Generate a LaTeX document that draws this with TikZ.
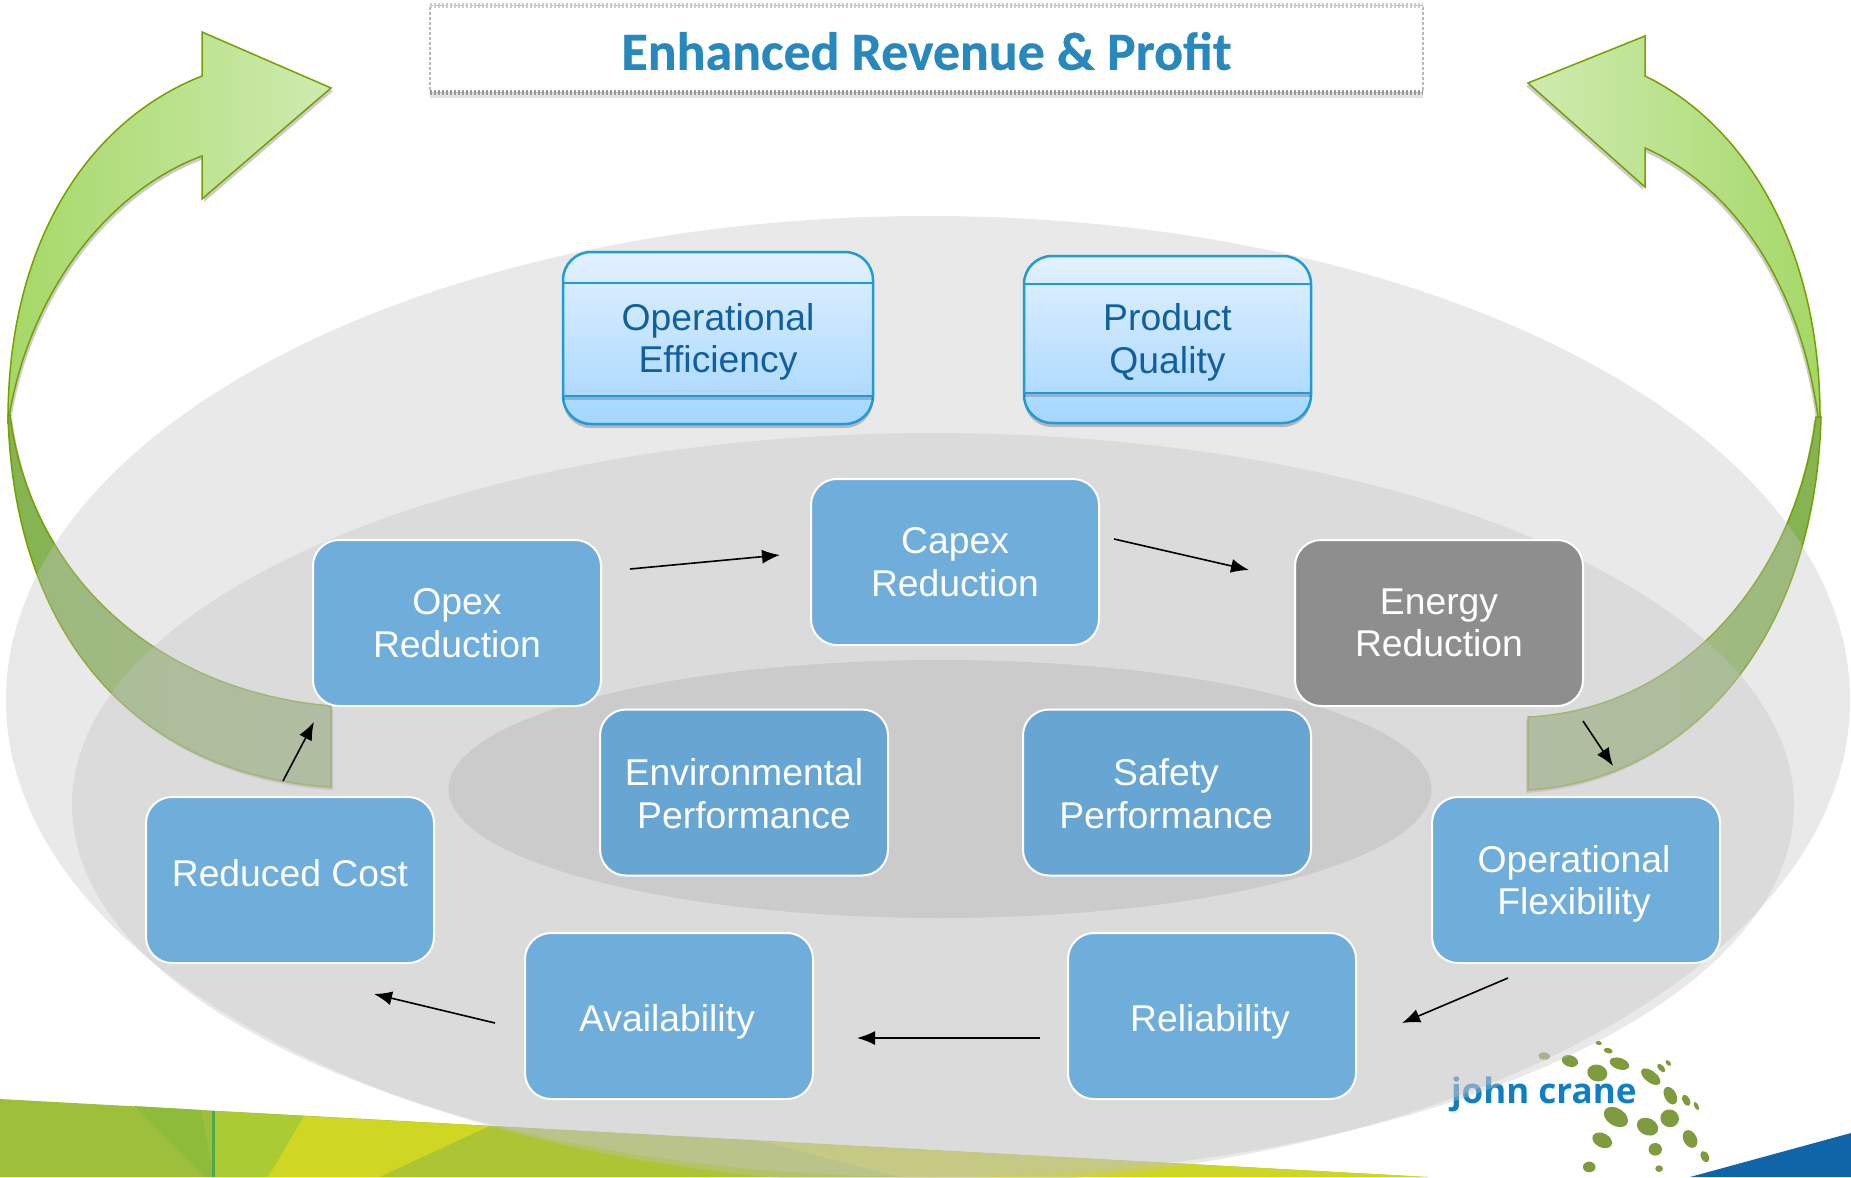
\documentclass[tikz,border=0pt]{standalone}
\usepackage{color}
\usepackage{fontspec}
\setmainfont{Liberation Sans}
\newfontfamily\titlefont[BoldFeatures={FakeBold=0.5}]{Carlito}
\newfontfamily\logofont{Open Sans}
\usepackage{tikz}
\usetikzlibrary{shapes, arrows, arrows.meta, shadows}

\definecolor{boxBlue}{RGB}{111,173,219}
\definecolor{coreBlue}{RGB}{103,165,211}
\definecolor{boxGrey}{RGB}{142,142,142}
\definecolor{goalLine}{RGB}{31,156,216}
\definecolor{goalText}{RGB}{16,96,160}
\definecolor{goalTop}{RGB}{227,241,255}
\definecolor{goalBottom}{RGB}{164,214,255}
\definecolor{titleBlue}{RGB}{38,136,188}
\definecolor{arrowLine}{RGB}{117,160,0}
\definecolor{logoGreen}{RGB}{126,156,62}
\definecolor{logoBlue}{RGB}{14,127,198}
\definecolor{ringGrey}{RGB}{195,195,195}
\definecolor{coreGrey}{RGB}{177,177,177}
\definecolor{arrowLight}{RGB}{207,235,176}
\definecolor{arrowMid}{RGB}{165,216,103}
\definecolor{arrowDeep}{RGB}{133,180,80}
\definecolor{arrowPale}{RGB}{153,183,115}

\newcommand{\textDown}[1]{\rule{0pt}{#1}}
\newcommand{\textUp}[1]{\rule[-#1]{0pt}{#1}}

\begin{document}
\begin{tikzpicture}[
    x=1pt, y=-1pt,
    boxWidth/.style={minimum width=288pt},
    boxHeight/.style={minimum height=166pt},
    stepBox/.style={boxWidth, boxHeight, fill=boxBlue, draw=white, line width=2pt, rounded corners=26pt, text=white},
    coreBox/.style={stepBox, fill=coreBlue},
    goalBox/.style={boxHeight, rounded corners=28pt, draw=goalLine, line width=2.5pt, top color=goalTop, bottom color=goalBottom, text=goalText,
        drop shadow={fill=black, shadow xshift=0pt, shadow yshift=-4pt, opacity=.22}},
    ring/.style={ellipse, inner sep=0pt, fill=ringGrey, fill opacity=.37},
    flowArrow/.style={->, >={Latex[length=18pt, width=14pt]}, line width=1.6pt},
    bigArrow/.style={draw=arrowLine, line width=1.5pt, line join=miter},
    every node/.style={
        text centered,
        align=center,
        font=\fontsize{37.3}{42.5}\selectfont,
        outer sep=0pt,
        }
        ]
    \useasboundingbox (0,0) rectangle (1851,1177);

    \fill[fill={rgb,255:red,157;green,191;blue,60}] (0,1099) -- (1428,1177) -- (0,1177) -- cycle;
    \fill[fill={rgb,255:red,143;green,187;blue,58}] (134,1106) -- (201,1110) -- (214,1177) -- (205,1177) -- cycle;
    \fill[fill={rgb,255:red,170;green,203;blue,51}] (214,1111) -- (304,1116) -- (268,1177) -- (214,1177) -- cycle;
    \fill[fill={rgb,255:red,207;green,215;blue,34}] (304,1116) -- (490,1126) -- (380,1177) -- (268,1177) -- cycle;
    \fill[fill={rgb,255:red,173;green,196;blue,52}] (490,1126) -- (760,1141) -- (900,1177) -- (380,1177) -- cycle;
    \fill[fill={rgb,255:red,205;green,214;blue,37}] (760,1141) -- (1428,1177) -- (900,1177) -- cycle;
    \fill[fill={rgb,255:red,79;green,168;blue,80}] (212,1111) -- (215,1111) -- (215,1177) -- (212,1177) -- cycle;
    \fill[fill={rgb,255:red,16;green,100;blue,168}] (1690,1177) -- (1851,1133) -- (1851,1177) -- cycle;

    \node[anchor=base west, font=\logofont\bfseries\fontsize{35}{42}\selectfont, text=logoBlue, inner sep=0pt] (logo) at (1451,1103) {john crane};
    \begin{scope}[shift={(1300,960)}, xscale=.3514, yscale=.3333]
        \foreach \x/\y/\a/\b/\r in {850/249/9/6/10, 877/272/13/8/15, 695/288/17/11/5, 768/303/24/17/20, 909/311/29/17/20,
            846/339/29/25/20, 1028/324/15/8/50, 1048/309/10/6/50, 998/350/33/17/40, 1054/407/28/17/65, 1099/421/18/10/65,
            1128/438/13/6/65, 899/471/38/26/35, 989/500/32/25/30, 1052/475/27/26/50, 1110/537/28/19/65, 860/541/30/21/30,
            1011/568/19/19/0, 1152/590/18/11/65, 823/621/18/16/0, 1022/626/11/10/0}
            \fill[logoGreen, rotate around={-\r:(\x,\y)}] (\x,\y) ellipse [x radius=\a, y radius=\b];
    \end{scope}

    \path[bigArrow, left color=arrowMid, right color=arrowLight,
        drop shadow={fill=black, shadow xshift=2pt, shadow yshift=-3pt, opacity=.2}]
        (331,88) -- (202,199) -- (202,156) .. controls (110,190) and (30,290) .. (9,417)
        -- (8,420) .. controls (8,240) and (90,120) .. (202,76) -- (202,32) -- cycle;
    \path[bigArrow, left color=arrowDeep, right color=arrowPale,
        drop shadow={fill=black, shadow xshift=2pt, shadow yshift=-3pt, opacity=.2}]
        (8,415) .. controls (14,640) and (140,775) .. (331,787) -- (331,706) .. controls (150,690) and (30,570) .. (10,415) -- cycle;
    \path[bigArrow, right color=arrowMid, left color=arrowLight,
        drop shadow={fill=black, shadow xshift=-2pt, shadow yshift=-3pt, opacity=.2}]
        (1528,83) -- (1645,187) -- (1645,148) .. controls (1735,188) and (1800,285) .. (1818,417)
        -- (1820,417) .. controls (1820,240) and (1740,122) .. (1645,76) -- (1645,36) -- cycle;
    \path[bigArrow, right color=arrowDeep, left color=arrowPale,
        drop shadow={fill=black, shadow xshift=-2pt, shadow yshift=-3pt, opacity=.2}]
        (1821,417) .. controls (1815,640) and (1690,780) .. (1528,790) -- (1528,717) .. controls (1680,710) and (1795,580) .. (1816,417) -- cycle;

    \node[ring, minimum width=1844pt, minimum height=968pt] (outerRing) at (928,700) {};
    \node[ring, minimum width=1722pt, minimum height=744pt] (middleRing) at (933,805) {};
    \node[ring, fill=coreGrey, minimum width=983pt, minimum height=258pt] (innerRing) at (940,789) {};

    \fill[gray, opacity=.22] (430,90) rectangle (1423,98);
    \node[minimum width=993pt, minimum height=87pt, fill=white, draw=gray!55, line width=1.2pt, dash pattern=on 3pt off 2pt, text=titleBlue,
        font=\titlefont\bfseries\fontsize{53.8}{60}\selectfont] (title) at (926.5,49) {\textDown{42pt}Enhanced Revenue \& Profit};
    \draw[gray!40, line width=5pt, dash pattern=on 2pt off 2pt] (title.north west) -- (title.north east);
    \draw[gray!80, line width=5pt, dash pattern=on 2pt off 2pt] (title.south west) -- (title.south east);

    \node[goalBox, minimum width=310pt, minimum height=172pt] (opEff) at (718,338) {\textDown{35pt}Operational\\Efficiency};
    \node[goalBox, minimum width=287pt, minimum height=167pt] (prodQual) at (1167.5,339.5) {\textDown{33pt}Product\\Quality};
    \draw[goalLine, line width=2pt] ([yshift=-31pt]opEff.north west) -- ([yshift=-31pt]opEff.north east);
    \draw[black, opacity=.18, line width=3pt] ([yshift=26pt]opEff.south west) -- ([yshift=26pt]opEff.south east);
    \draw[goalLine, line width=2.5pt] ([yshift=28pt]opEff.south west) -- ([yshift=28pt]opEff.south east);
    \draw[goalLine, line width=2pt] ([yshift=-28pt]prodQual.north west) -- ([yshift=-28pt]prodQual.north east);
    \draw[black, opacity=.18, line width=3pt] ([yshift=28pt]prodQual.south west) -- ([yshift=28pt]prodQual.south east);
    \draw[goalLine, line width=2.5pt] ([yshift=30pt]prodQual.south west) -- ([yshift=30pt]prodQual.south east);

    \node[stepBox] (opex) at (457,623) {Opex\\Reduction};
    \node[stepBox, xshift=498pt, yshift=61pt] (capex) at (opex.center) {Capex\\Reduction};
    \node[stepBox, fill=boxGrey, xshift=982pt] (energy) at (opex.center) {Energy\\Reduction};
    \node[coreBox] (envPerf) at (744,792.5) {\textDown{29pt}Environmental\\Performance};
    \node[coreBox, xshift=423pt] (safePerf) at (envPerf.center) {\textDown{29pt}Safety\hspace*{2pt}\\Performance\hspace*{2pt}};
    \node[stepBox] (redCost) at (290,880) {Reduced Cost\textUp{14pt}};
    \node[stepBox, xshift=1286pt] (opFlex) at (redCost.center) {\textDown{35pt}Operational\hspace*{4pt}\\Flexibility\hspace*{4pt}};
    \node[stepBox] (avail) at (669,1016) {\textDown{39pt}Availability\hspace*{4pt}};
    \node[stepBox, xshift=543pt] (reliab) at (avail.center) {\textDown{39pt}Reliability\hspace*{4pt}};

    \draw[flowArrow] ([xshift=-7pt, yshift=16pt]redCost.north) -- ([xshift=1pt, yshift=-16pt]opex.south west);
    \draw[flowArrow] ([xshift=29pt, yshift=54pt]opex.east) -- ([xshift=-31pt, yshift=7pt]capex.west);
    \draw[flowArrow] ([xshift=15pt, yshift=23pt]capex.east) -- ([xshift=-46pt, yshift=53pt]energy.west);
    \draw[flowArrow] ([yshift=-15pt]energy.south east) -- ([xshift=37pt, yshift=31pt]opFlex.north);
    \draw[flowArrow] ([xshift=-68pt, yshift=-15pt]opFlex.south) -- ([xshift=46pt, yshift=-7pt]reliab.east);
    \draw[flowArrow] ([xshift=-28pt, yshift=-22pt]reliab.west) -- ([xshift=44pt, yshift=-22pt]avail.east);
    \draw[flowArrow] ([xshift=-30pt, yshift=-7pt]avail.west) -- ([xshift=84pt, yshift=-31pt]redCost.south);
\end{tikzpicture}
\end{document}
